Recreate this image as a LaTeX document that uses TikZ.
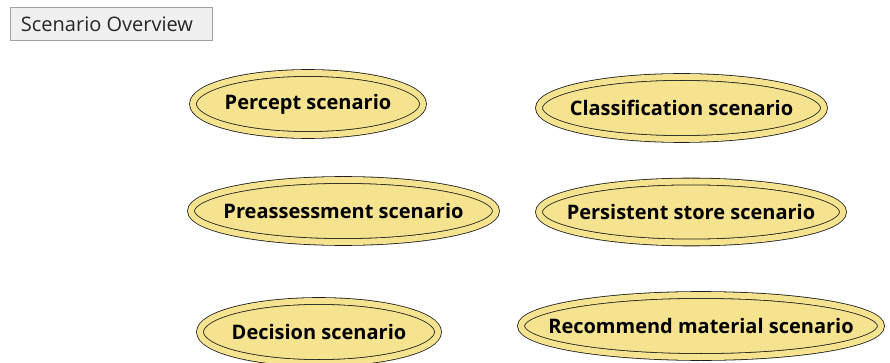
\documentclass[tikz,border=0pt]{standalone}
\usepackage{fontspec}
\setmainfont{Open Sans}
\usetikzlibrary{shapes.geometric}
\definecolor{scfill}{HTML}{F5E390}
\definecolor{scline}{HTML}{1E1E1E}
\definecolor{boxfill}{HTML}{F0F0F0}
\definecolor{boxline}{HTML}{A0A0A0}
\newcommand{\zw}[1]{\makebox[0pt][c]{#1}}
\begin{document}
\begin{tikzpicture}[x=1pt,y=-1pt,
  scen/.style={ellipse, draw=scline, line width=0.8pt, double=scfill, double distance=6pt,
    fill=scfill, inner sep=0pt, font=\fontsize{20}{24}\selectfont\bfseries, text=black},
  titlebox/.style={rectangle, draw=boxline, line width=1pt, fill=boxfill, inner sep=0pt,
    minimum width=202pt, minimum height=33pt, font=\fontsize{20}{24}\selectfont, text=black!85}]
\useasboundingbox (0,0) rectangle (890,363);
\clip (0,0) rectangle (890,363);
\node[titlebox] (title) at (111,24.5) {\zw{\hspace*{-8pt}Scenario Overview}};
\node[scen, minimum width=230pt, minimum height=62pt] (percept) at (308,104) {\zw{Percept scenario}};
\node[scen, minimum width=285pt, minimum height=62pt] (classif) at (681.5,108) {\zw{Classification scenario}};
\node[scen, minimum width=305pt, minimum height=62pt] (preass) at (343.5,211) {\zw{Preassessment scenario}};
\node[scen, minimum width=304pt, minimum height=61pt] (persist) at (691,212) {\zw{Persistent store scenario}};
\node[scen, minimum width=238pt, minimum height=62pt] (decision) at (319,332) {\zw{Decision scenario}};
\node[scen, minimum width=360pt, minimum height=62pt] (recommend) at (701,326) {\zw{Recommend material scenario}};
\end{tikzpicture}
\end{document}
